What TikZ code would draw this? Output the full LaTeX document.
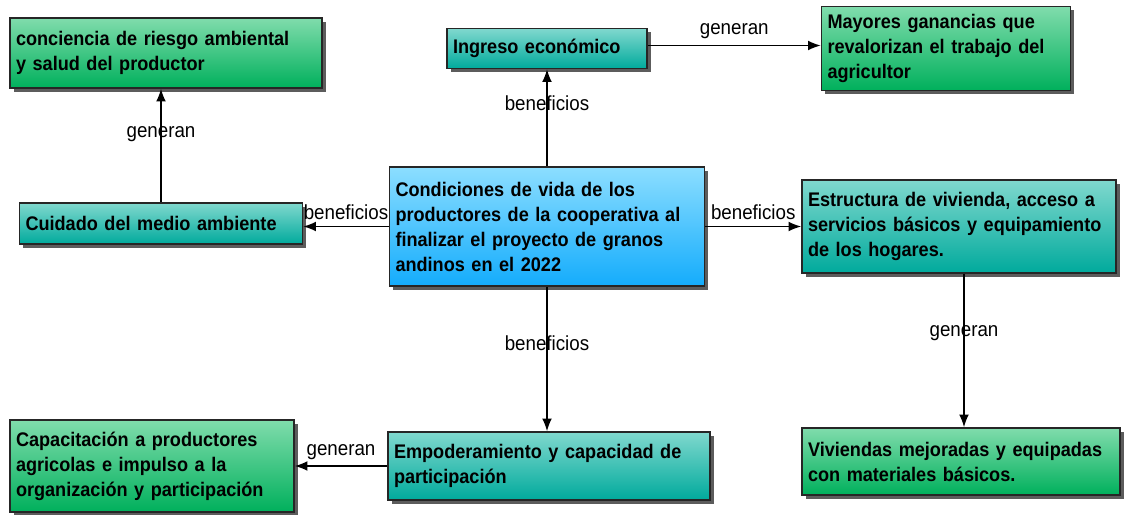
\documentclass[tikz,border=0pt]{standalone}
\usepackage{fontspec}
\setmainfont{Liberation Sans}[FakeStretch=0.92]
\usepackage{tikz}
\usetikzlibrary{shapes,arrows,arrows.meta,shadows}
\definecolor{greentop}{RGB}{128,220,172}
\definecolor{greenbot}{RGB}{0,176,92}
\definecolor{tealtop}{RGB}{128,216,206}
\definecolor{tealbot}{RGB}{0,170,156}
\definecolor{bluetop}{RGB}{140,222,255}
\definecolor{bluebot}{RGB}{20,172,252}
\tikzstyle{box} = [rectangle, draw=black!85, line width=1.1pt, align=left,
    inner xsep=0.15cm, inner ysep=0.1cm,
    font=\fontsize{14}{17.8}\selectfont\bfseries,
    drop shadow={shadow xshift=0.09cm, shadow yshift=-0.09cm, fill=black!75, opacity=0.85}]
\tikzstyle{greenbox} = [box, top color=greentop, bottom color=greenbot]
\tikzstyle{tealbox} = [box, top color=tealtop, bottom color=tealbot]
\tikzstyle{bluebox} = [box, top color=bluetop, bottom color=bluebot]
\tikzstyle{line} = [draw, line width=1.1pt, -{Latex[length=9pt,width=7pt]}]
\tikzstyle{lbl} = [font=\fontsize{14.5}{16}\selectfont, inner sep=1pt]

\begin{document}
\begin{tikzpicture}
 \useasboundingbox (0,0) rectangle (28.2,-12.875);
 \node[bluebox, text width=7.575cm, minimum height=2.975cm] (cond) at (13.675,-5.6625)
   {Condiciones de vida de los\\productores de la cooperativa al\\finalizar el proyecto de granos\\andinos en el 2022};
 \node[tealbox, above of=cond, node distance=4.45cm, text width=4.7cm, minimum height=1cm] (ingreso)
   {Ingreso económico};
 \node[greenbox, right of=ingreso, node distance=9.975cm, text width=5.925cm, minimum height=2.1cm] (mayores)
   {Mayores ganancias que\\revalorizan el trabajo del\\agricultor};
 \node[tealbox, left of=cond, node distance=9.65cm, yshift=0.075cm, text width=6.775cm, minimum height=1.025cm] (cuidado)
   {Cuidado del medio ambiente};
 \node[greenbox, above of=cuidado, node distance=4.2625cm, xshift=0.125cm, text width=7.5cm, minimum height=1.75cm] (conciencia)
   {conciencia de riesgo ambiental\\y salud del productor};
 \node[tealbox, right of=cond, node distance=10.3cm, text width=7.55cm, minimum height=2.325cm] (estructura)
   {Estructura de vivienda, acceso a\\servicios básicos y equipamiento\\de los hogares.};
 \node[greenbox, below of=estructura, node distance=5.875cm, xshift=0.05cm, text width=7.65cm, minimum height=1.675cm] (viviendas)
   {Viviendas mejoradas y equipadas\\con materiales básicos.};
 \node[tealbox, below of=cond, node distance=5.9875cm, xshift=0.05cm, text width=7.75cm, minimum height=1.7cm] (empod)
   {Empoderamiento y capacidad de\\participación};
 \node[greenbox, left of=empod, node distance=9.925cm, text width=6.8cm, minimum height=2.3cm] (capac)
   {Capacitación a productores\\agricolas e impulso a la\\organización y participación};

\path[line] (cond.north) -- node[lbl, pos=0.65] {beneficios} (ingreso.south);
\path[line] ([yshift=0.075cm]ingreso.east) -- node[lbl, above=3pt] {generan} ([yshift=0.075cm]ingreso.east -| mayores.west);
\path[line] (cond.west) -- node[lbl, above=3pt] {beneficios} (cond.west -| cuidado.east);
\path[line] (cuidado.north) -- node[lbl, pos=0.6] {generan} (cuidado.north |- conciencia.south);
\path[line] (cond.east) -- node[lbl, above=3pt] {beneficios} (cond.east -| estructura.west);
\path[line] ([xshift=0.125cm]estructura.south) -- node[lbl, pos=0.39] {generan} ([xshift=0.125cm]estructura.south |- viviendas.north);
\path[line] (cond.south) -- node[lbl, pos=0.39] {beneficios} (cond.south |- empod.north);
\path[line] (empod.west) -- node[lbl, above=3pt] {generan} (capac.east);
\end{tikzpicture}
\end{document}
